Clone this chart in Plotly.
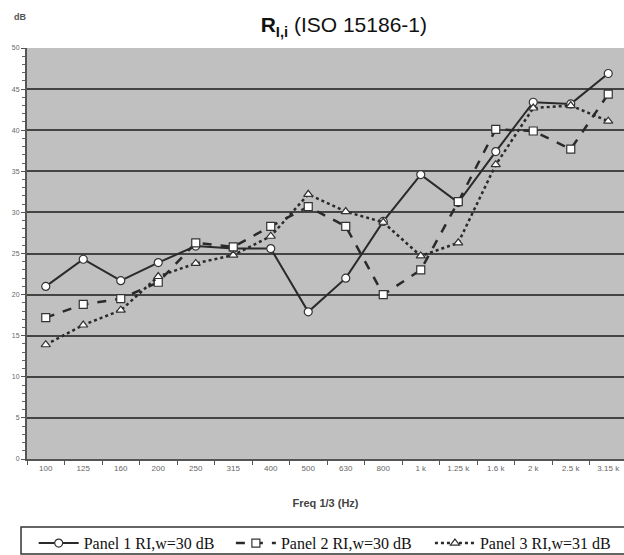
import plotly.graph_objects as go

freq = ["100", "125", "160", "200", "250", "315", "400", "500", "630", "800",
        "1 k", "1.25 k", "1.6 k", "2 k", "2.5 k", "3.15 k"]
panel1 = [21.0, 24.3, 21.7, 23.9, 25.9, 25.6, 25.6, 17.9, 22.0, 28.9, 34.6, 31.2, 37.4, 43.4, 43.2, 46.9]
panel2 = [17.2, 18.8, 19.5, 21.5, 26.3, 25.8, 28.3, 30.7, 28.3, 20.0, 23.0, 31.3, 40.1, 39.9, 37.7, 44.4]
panel3 = [13.9, 16.3, 18.1, 22.2, 23.8, 24.8, 27.1, 32.2, 30.1, 28.8, 24.7, 26.3, 35.8, 42.7, 43.0, 41.1]
names = ["Panel 1 RI,w=30 dB", "Panel 2 RI,w=30 dB", "Panel 3 RI,w=31 dB"]

fig = go.Figure()
styles = [("solid", "circle", 2), ("dash", "square", 2.5), ("dot", "triangle-up", 2.5)]
legend_ids = ["legend", "legend2", "legend3"]
for vals, name, (dash, sym, w), lid in zip([panel1, panel2, panel3], names, styles, legend_ids):
    fig.add_trace(go.Scatter(
        x=freq, y=vals, name=name, mode="lines+markers", legend=lid,
        line=dict(color="#2a2a2a", width=w, dash=dash),
        marker=dict(symbol=sym, size=8, color="white", line=dict(color="#333333", width=1.2)),
    ))

legend_style = dict(orientation="h", xref="container", yref="container", xanchor="left",
                    y=0.052, yanchor="top", borderwidth=0, bgcolor="rgba(0,0,0,0)",
                    font=dict(family="Liberation Serif, Times New Roman", size=16, color="#111"),
                    itemwidth=40)

fig.update_layout(
    width=624, height=555,
    margin=dict(l=27, r=0, t=48, b=96),
    paper_bgcolor="white", plot_bgcolor="#c0c0c0",
    font=dict(family="Liberation Sans, Arial", color="#222"),
    title=dict(text="<b>R</b><sub><b>I,i</b></sub> (ISO 15186-1)", x=0.551, xanchor="center",
               y=0.955, yanchor="middle", font=dict(size=21, color="#111")),
    showlegend=True,
    legend=dict(legend_style, x=0.054),
    legend2=dict(legend_style, x=0.37),
    legend3=dict(legend_style, x=0.689),
    annotations=[dict(text="<b>dB</b>", xref="paper", yref="paper", x=-0.012, y=1.075,
                      xanchor="center", yanchor="middle", showarrow=False,
                      font=dict(size=9, color="#555"))],
    shapes=[dict(type="rect", xref="paper", yref="paper", x0=-0.01, x1=1.02,
                 y0=-0.231, y1=-0.1655, line=dict(color="#333", width=1.5),
                 fillcolor="rgba(0,0,0,0)", layer="above")],
)
fig.update_xaxes(
    type="category", range=[-0.5, 15.42], showgrid=False, automargin=False,
    showline=True, linecolor="#555", linewidth=2,
    ticks="outside", tickson="boundaries", ticklen=4, tickcolor="#555",
    tickfont=dict(size=8, color="#666"),
    title=dict(text="<b>Freq 1/3 (Hz)</b>", font=dict(size=11, color="#444"), standoff=28),
)
fig.update_yaxes(
    range=[0, 50], dtick=5, showgrid=True, gridcolor="#444", gridwidth=2, automargin=False,
    showline=True, linecolor="#555", linewidth=2, zeroline=False,
    ticks="outside", ticklen=4, tickcolor="#555",
    minor=dict(dtick=1, ticks="outside", ticklen=3, tickcolor="#666", showgrid=False),
    tickfont=dict(size=7, color="#666"),
)

# remove the default page margin so the figure sits at the window's origin
fig.write_html(
    "out.html",
    config={"displayModeBar": False},
    post_script="document.body.style.margin='0';document.body.style.overflow='hidden';"
                "document.documentElement.style.overflow='hidden';",
)
